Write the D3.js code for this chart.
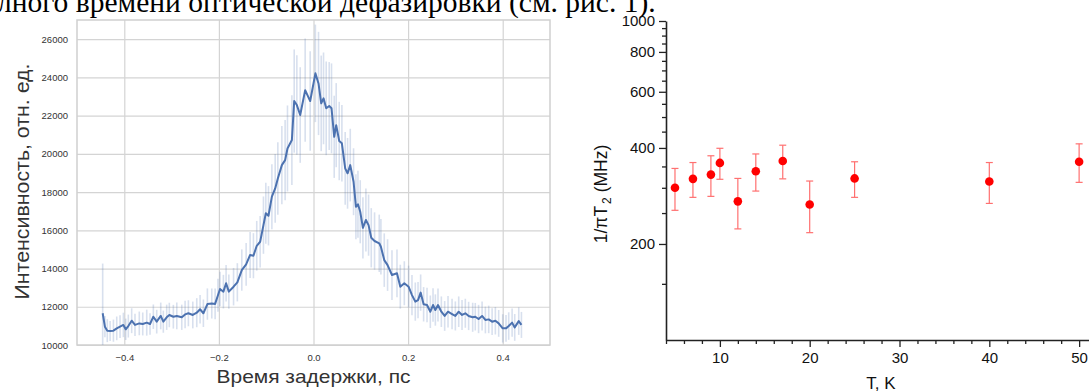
<!DOCTYPE html>
<html>
<head>
<meta charset="utf-8">
<script src="https://cdn.jsdelivr.net/npm/d3@7"></script>
<style>
  html, body { margin: 0; padding: 0; background: #fff; }
  svg { display: block; }
</style>
</head>
<body>
<svg id="chart" width="1089" height="392"></svg>
<script>
// ---------- Left panel data (delay in ps, intensity in arb. units, error) ----------
const delayPs = [
  -0.4457,-0.4410,-0.4360,-0.4300,-0.4230,-0.4160,-0.4090,-0.4020,-0.3970,-0.3915,
  -0.3844,-0.3774,-0.3683,-0.3610,-0.3526,-0.3456,-0.3386,-0.3315,-0.3230,-0.3175,
  -0.3104,-0.3048,-0.2963,-0.2890,-0.2785,-0.2715,-0.2645,-0.2552,-0.2468,-0.2398,
  -0.2328,-0.2243,-0.2150,-0.2080,-0.2020,-0.1976,-0.1905,-0.1848,-0.1790,-0.1690,
  -0.1610,-0.1516,-0.1424,-0.1340,-0.1270,-0.1200,-0.1128,-0.1058,-0.1008,-0.0952,
  -0.0880,-0.0810,-0.0754,-0.0669,-0.0600,-0.0550,-0.0457,-0.0408,-0.0352,-0.0281,
  -0.0176,-0.0070, 0.0040, 0.0106, 0.0163, 0.0212, 0.0269, 0.0332, 0.0381, 0.0438,
   0.0480, 0.0544, 0.0600, 0.0670, 0.0720, 0.0777, 0.0847, 0.0897, 0.0940, 0.0988,
   0.1045, 0.1108, 0.1164, 0.1221, 0.1291, 0.1390, 0.1425, 0.1496, 0.1566, 0.1659,
   0.1765, 0.1835, 0.1920, 0.2010, 0.2082, 0.2152, 0.2210, 0.2265, 0.2328, 0.2400,
   0.2470, 0.2527, 0.2576, 0.2632, 0.2703, 0.2773, 0.2844, 0.2929, 0.2999, 0.3070,
   0.3140, 0.3210, 0.3280, 0.3365, 0.3420, 0.3490, 0.3564, 0.3634, 0.3704, 0.3776,
   0.3845, 0.3915, 0.4000, 0.4070, 0.4127, 0.4199, 0.4254, 0.4339, 0.4396
];
const intensity = [
  11660,10960,10750,10730,10750,10870,10960,11050,10820,10990,
  11270,11050,11130,11100,11170,11100,11480,11220,11520,11220,
  11450,11570,11480,11520,11450,11600,11660,11570,11690,11870,
  11660,12140,12170,12150,12600,12930,12790,13230,12790,13050,
  13280,13920,14220,14710,14670,15190,15400,16270,16890,16760,
  17760,18190,18710,19410,19670,20280,20720,22760,22550,22030,
  23330,22760,24210,23680,22640,22900,22380,22500,22380,20890,
  21500,20670,20550,19240,18980,19410,18540,17230,17360,16970,
  16130,16540,16270,15610,15440,15320,15140,14440,14180,13660,
  13750,13050,13230,13050,12610,12270,12350,12740,12130,12090,
  11740,12090,11830,12090,11740,11520,11740,11620,11520,11740,
  11570,11660,11520,11450,11480,11360,11520,11310,11340,11220,
  11270,11130,10870,10870,10990,11170,10920,11250,11050
];
const intensityErr = [
  2600, 560, 600, 520, 580, 620, 600, 640, 560, 600,
   650, 580, 620, 600, 680, 560, 640, 620, 700, 580,
   660, 640, 620, 700, 660, 720, 680, 700, 760, 740,
   720, 820, 780, 800, 860, 900, 880, 960, 900, 980,
  1000,1080,1120,1200,1180,1300,1350,1500,1600,1550,
  1700,1800,1900,2050,2100,2250,2350,2700,2600,2500,
  2700,2600,2550,2700,2500,2400,2450,2300,2350,2150,
  2200,2050,2000,1900,1850,1900,1750,1700,1750,1650,
  1600,1650,1600,1550,1500,1500,1450,1400,1350,1300,
  1250,1150,1150,1100,1050,1000, 950, 950, 900, 900,
   850, 880, 820, 860, 800, 780, 820, 800, 760, 800,
   780, 760, 740, 760, 720, 740, 760, 700, 720, 700,
   720, 700, 740, 700, 720, 740, 700, 720, 680
];
const leftYTicks = [10000, 12000, 14000, 16000, 18000, 20000, 22000, 24000, 26000];
const leftXTicks = [-0.4, -0.2, 0.0, 0.2, 0.4];

// ---------- Right panel data (temperature K, 1/piT2 MHz, error) ----------
const temperatureK = [5, 7, 9, 10, 12, 14, 17, 20, 25, 40, 50];
const rateMHz      = [300, 320, 330, 359, 272, 338, 364, 266, 321, 314, 362];
const rateErrMHz   = [45, 40, 48, 40, 49, 45, 44, 49, 41, 46, 50];
const rightYMajor  = [200, 400, 600, 800, 1000];
const rightYMinor  = [150, 250, 300, 350, 450, 500, 550, 650, 700, 750, 850, 900, 950];
const rightXMajor  = [10, 20, 30, 40, 50];
const rightXMinor  = [4, 6, 8, 12, 14, 16, 18, 22, 24, 26, 28, 32, 34, 36, 38, 42, 44, 46, 48];

const svg = d3.select("#chart");
svg.append("rect").attr("width", 1089).attr("height", 392).attr("fill", "#fff");

// ---------- Top cut-off document text ----------
svg.append("text")
  .attr("x", -3).attr("y", 12)
  .attr("font-family", "'Liberation Serif', 'Times New Roman', serif")
  .attr("font-size", 29.5).attr("fill", "#000")
  .text("лного времени оптической дефазировки (см. рис. 1).");

// ================= LEFT PANEL =================
const L = { x0: 77, x1: 550, y0: 20, y1: 345 };
const xL = d3.scaleLinear().domain([-0.5, 0.5]).range([L.x0, L.x1]);
const yL = d3.scaleLinear().domain([10000, 27000]).range([L.y1, L.y0]);
const gL = svg.append("g");
const gridColor = "#d4d4d4";

// grid
gL.append("g").attr("transform", `translate(0,${L.y1})`)
  .call(d3.axisBottom(xL).tickValues(leftXTicks).tickSize(-(L.y1 - L.y0)).tickFormat(""))
  .call(g => g.select(".domain").remove())
  .call(g => g.selectAll("line").attr("stroke", gridColor).attr("stroke-width", 1.2));
gL.append("g").attr("transform", `translate(${L.x0},0)`)
  .call(d3.axisLeft(yL).tickValues(leftYTicks).tickSize(-(L.x1 - L.x0)).tickFormat(""))
  .call(g => g.select(".domain").remove())
  .call(g => g.selectAll("line").attr("stroke", gridColor).attr("stroke-width", 1.2));

// frame
gL.append("rect").attr("x", L.x0).attr("y", L.y0)
  .attr("width", L.x1 - L.x0).attr("height", L.y1 - L.y0)
  .attr("fill", "none").attr("stroke", "#cfcfcf").attr("stroke-width", 1.5);

// tick labels
const fmtX = d => d3.format(".1f")(d).replace("-", "\u2212");
gL.append("g").attr("transform", `translate(0,${L.y1})`)
  .call(d3.axisBottom(xL).tickValues(leftXTicks).tickSize(0).tickPadding(9).tickFormat(fmtX))
  .call(g => g.select(".domain").remove())
  .call(g => g.selectAll("text").attr("font-family", "'Liberation Sans', Arial, sans-serif")
    .attr("font-size", 9.5).attr("fill", "#333"));
gL.append("g").attr("transform", `translate(${L.x0},0)`)
  .call(d3.axisLeft(yL).tickValues(leftYTicks).tickSize(0).tickPadding(9).tickFormat(d3.format("d")))
  .call(g => g.select(".domain").remove())
  .call(g => g.selectAll("text").attr("font-family", "'Liberation Sans', Arial, sans-serif")
    .attr("font-size", 9.5).attr("fill", "#333"));

// data
const leftData = delayPs.map((t, i) => ({ t, v: intensity[i], e: intensityErr[i] }));
const clipId = "clipL";
svg.append("defs").append("clipPath").attr("id", clipId)
  .append("rect").attr("x", L.x0).attr("y", L.y0).attr("width", L.x1 - L.x0).attr("height", L.y1 - L.y0);
const gData = gL.append("g").attr("clip-path", `url(#${clipId})`);
gData.selectAll("line.err").data(leftData).enter().append("line")
  .attr("class", "err")
  .attr("x1", d => xL(d.t)).attr("x2", d => xL(d.t))
  .attr("y1", d => yL(d.v - d.e)).attr("y2", d => yL(d.v + d.e))
  .attr("stroke", "#4c72b0").attr("stroke-opacity", 0.22).attr("stroke-width", 1.6);
gData.append("path").datum(leftData)
  .attr("d", d3.line().x(d => xL(d.t)).y(d => yL(d.v)))
  .attr("fill", "none").attr("stroke", "#4c72b0").attr("stroke-width", 2)
  .attr("stroke-linejoin", "round");

// axis titles
svg.append("text")
  .attr("x", xL(0)).attr("y", 383)
  .attr("text-anchor", "middle")
  .attr("font-family", "'Liberation Sans', Arial, sans-serif")
  .attr("font-size", 19).attr("fill", "#333")
  .attr("textLength", 194).attr("lengthAdjust", "spacingAndGlyphs")
  .text("Время задержки, пс");
svg.append("text")
  .attr("transform", `translate(29,181.5) rotate(-90)`)
  .attr("text-anchor", "middle")
  .attr("font-family", "'Liberation Sans', Arial, sans-serif")
  .attr("font-size", 21).attr("fill", "#333")
  .attr("textLength", 236).attr("lengthAdjust", "spacingAndGlyphs")
  .text("Интенсивность, отн. ед.");

// ================= RIGHT PANEL =================
const R = { x0: 666, x1: 1089, y0: 21, y1: 340 };
const xR = d3.scaleLinear().domain([4, 51.1]).range([R.x0, R.x1]);
const yR = d3.scaleLog().domain([100, 1000]).range([R.y1, R.y0]);
const gR = svg.append("g");
const axisFont = "'Liberation Sans', Arial, sans-serif";

// minor ticks
gR.append("g").attr("transform", `translate(${R.x0},0)`)
  .call(d3.axisLeft(yR).tickValues(rightYMinor).tickSize(4).tickFormat(""))
  .call(g => g.select(".domain").remove())
  .call(g => g.selectAll("line").attr("stroke", "#222").attr("stroke-width", 1.3));
gR.append("g").attr("transform", `translate(0,${R.y1})`)
  .call(d3.axisBottom(xR).tickValues(rightXMinor).tickSize(4).tickFormat(""))
  .call(g => g.select(".domain").remove())
  .call(g => g.selectAll("line").attr("stroke", "#222").attr("stroke-width", 1.3));

// major axes
gR.append("g").attr("transform", `translate(${R.x0},0)`)
  .call(d3.axisLeft(yR).tickValues(rightYMajor).tickSize(7).tickSizeOuter(0).tickPadding(4).tickFormat(d3.format("d")))
  .call(g => g.select(".domain").attr("stroke", "#222").attr("stroke-width", 1.6))
  .call(g => g.selectAll("line").attr("stroke", "#222").attr("stroke-width", 1.3))
  .call(g => g.selectAll("text").attr("font-family", axisFont).attr("font-size", 15).attr("fill", "#111"));
gR.append("g").attr("transform", `translate(0,${R.y1})`)
  .call(d3.axisBottom(xR).tickValues(rightXMajor).tickSize(7).tickSizeOuter(0).tickPadding(5).tickFormat(d3.format("d")))
  .call(g => g.select(".domain").attr("stroke", "#222").attr("stroke-width", 1.6))
  .call(g => g.selectAll("line").attr("stroke", "#222").attr("stroke-width", 1.3))
  .call(g => g.selectAll("text").attr("font-family", axisFont).attr("font-size", 15).attr("fill", "#111"));

// data
const rightData = temperatureK.map((t, i) => ({ t, v: rateMHz[i], e: rateErrMHz[i] }));
const eb = gR.append("g").attr("stroke", "#ff7070").attr("stroke-width", 1.2);
rightData.forEach(d => {
  const x = xR(d.t), yTop = yR(d.v + d.e), yBot = yR(d.v - d.e);
  eb.append("line").attr("x1", x).attr("x2", x).attr("y1", yTop).attr("y2", yBot);
  eb.append("line").attr("x1", x - 3.5).attr("x2", x + 3.5).attr("y1", yTop).attr("y2", yTop);
  eb.append("line").attr("x1", x - 3.5).attr("x2", x + 3.5).attr("y1", yBot).attr("y2", yBot);
});
gR.selectAll("circle").data(rightData).enter().append("circle")
  .attr("cx", d => xR(d.t)).attr("cy", d => yR(d.v)).attr("r", 4.3)
  .attr("fill", "#ff0000");

// axis titles
const yt = svg.append("text")
  .attr("transform", `translate(607,194) rotate(-90)`)
  .attr("text-anchor", "middle")
  .attr("font-family", axisFont).attr("font-size", 17.5).attr("fill", "#111");
yt.append("tspan").text("1/\u03C0T");
yt.append("tspan").attr("font-size", 12).attr("dy", 4).attr("dx", 2).text("2");
yt.append("tspan").attr("dy", -4).text(" (MHz)");

svg.append("text")
  .attr("x", 881).attr("y", 389)
  .attr("text-anchor", "middle")
  .attr("font-family", axisFont).attr("font-size", 17).attr("fill", "#111")
  .text("T, K");
</script>
</body>
</html>
